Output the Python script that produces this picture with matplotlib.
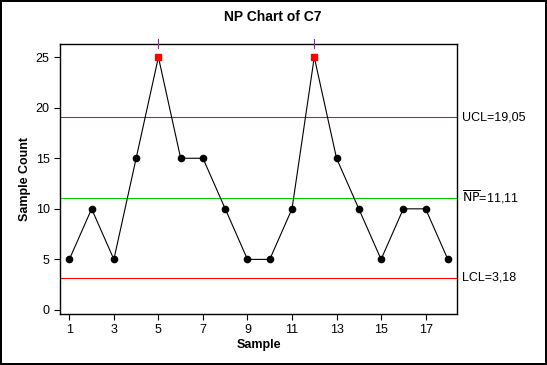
import numpy as np
import matplotlib
matplotlib.use("Agg")
import matplotlib.pyplot as plt
import matplotlib.transforms as mtransforms

plt.rcParams["font.family"] = ["Liberation Sans", "DejaVu Sans"]

# ---------------------------------------------------------------------------
# Data
# ---------------------------------------------------------------------------
samples = list(range(1, 19))
counts = [5, 10, 5, 15, 25, 15, 15, 10, 5, 5, 10, 25, 15, 10, 5, 10, 10, 5]
ucl = 19.05
center = 11.11
lcl = 3.18
x_ticks = [1, 3, 5, 7, 9, 11, 13, 15, 17]
y_ticks = [0, 5, 10, 15, 20, 25]

# ---------------------------------------------------------------------------
# Plot
# ---------------------------------------------------------------------------
fig = plt.figure(figsize=(5.47, 3.65), dpi=100)
fig.patch.set_edgecolor("black")
fig.patch.set_linewidth(1.5)

W, H = 547, 365
ax = fig.add_axes([60 / W, 1 - 314 / H, 397 / W, 270 / H])

ax.axhline(ucl, color="red", lw=0.75)
ax.axhline(center, color="#00cc00", lw=0.75)
ax.axhline(lcl, color="red", lw=0.75)

ax.plot(samples, counts, color="black", lw=0.8, zorder=3)

counts_arr = np.array(counts)
samp_arr = np.array(samples)
out = (counts_arr > ucl) | (counts_arr < lcl)
ax.plot(samp_arr[~out], counts_arr[~out], "o", color="black", ms=4.5, zorder=4)
ax.plot(samp_arr[out], counts_arr[out], "s", color="red", ms=5, zorder=4)

# small test markers at the top of the frame
trans = mtransforms.blended_transform_factory(ax.transData, ax.transAxes)
for s in samp_arr[out]:
    ax.plot([s, s], [0.985, 1.02], color="#7a3a7a", lw=0.8,
            transform=trans, clip_on=False, zorder=5)

ax.set_xlim(0.58, 18.41)
ax.set_ylim(-0.4, 26.3)
ax.set_xticks(x_ticks)
ax.set_yticks(y_ticks)
ax.tick_params(direction="out", length=4, labelsize=9, top=False, right=False)

for sp in ax.spines.values():
    sp.set_linewidth(1.0)

fig.text(273 / W, 1 - 17 / H, "NP Chart of C7", fontsize=10, fontweight="bold",
         ha="center", va="center")
ax.set_xlabel("Sample", fontsize=9, fontweight="bold", labelpad=2)
ax.set_ylabel("Sample Count", fontsize=9, fontweight="bold", labelpad=3)

ytrans = mtransforms.blended_transform_factory(ax.transAxes, ax.transData)
ax.text(1.013, ucl, "UCL=19,05", transform=ytrans, va="center", ha="left", fontsize=9)
ax.text(1.013, center, r"$\overline{\mathrm{NP}}$=11,11", transform=ytrans,
        va="center", ha="left", fontsize=9)
ax.text(1.013, lcl, "LCL=3,18", transform=ytrans, va="center", ha="left", fontsize=9)

fig.savefig("out.png", dpi=100, edgecolor=fig.get_edgecolor())
